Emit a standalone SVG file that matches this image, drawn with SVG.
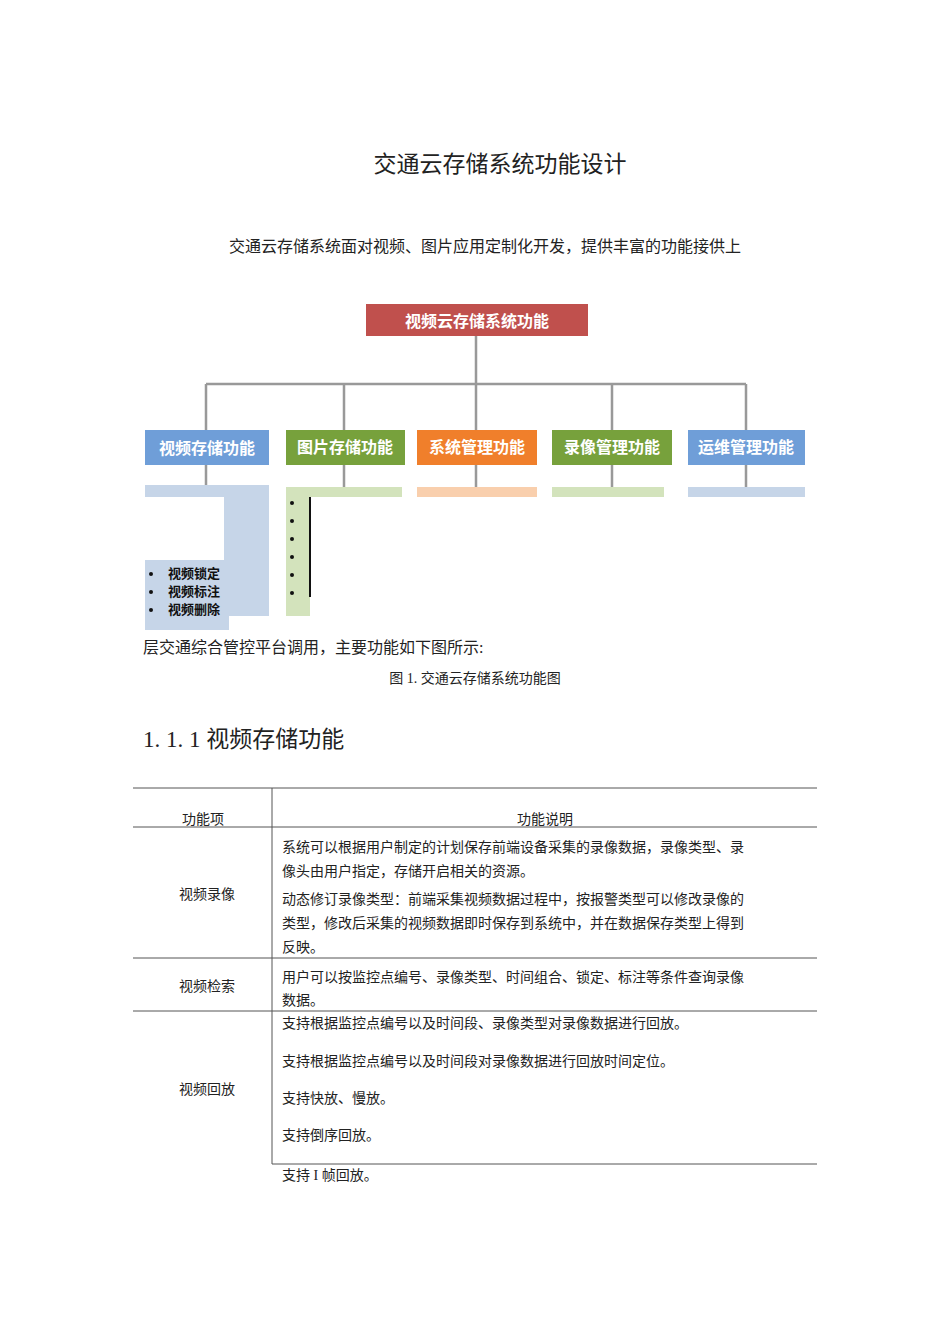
<svg xmlns="http://www.w3.org/2000/svg" width="950" height="1344" viewBox="0 0 950 1344">
<style>
.t{font-family:"Liberation Serif","Noto Sans CJK SC",serif;fill:#222}
.b{font-family:"Noto Sans CJK SC",sans-serif;font-weight:bold;fill:#fff;font-size:16px;text-anchor:middle}
.k{font-family:"Noto Sans CJK SC",sans-serif;font-weight:bold;fill:#111;font-size:13px}
.c{stroke:#999;stroke-width:2.5;fill:none}
.r{stroke:#555;stroke-width:1;fill:none}
</style>
<rect width="950" height="1344" fill="#fff"/>
<text class="t" x="500" y="172" font-size="23" text-anchor="middle">交通云存储系统功能设计</text>
<text class="t" x="229" y="252" font-size="16">交通云存储系统面对视频、图片应用定制化开发，提供丰富的功能接供上</text>
<g id="connectors">
<path class="c" d="M476 335V384M206 384H746M206 384V430M344 384V430M476 384V430M612 384V430M746 384V430M206 465V485M344 465V487M476 465V487M612 465V487M746 465V487"/>
</g>
<g id="root"><rect x="366" y="304" width="222" height="32" fill="#c0504d"/><text class="b" x="477" y="327" font-size="19">视频云存储系统功能</text></g>
<g id="n1"><rect x="145" y="430" width="124" height="35" fill="#6f9ed8"/><text class="b" x="207" y="454">视频存储功能</text></g>
<g id="n2"><rect x="286" y="430" width="119" height="35" fill="#77a13c"/><text class="b" x="345" y="453">图片存储功能</text></g>
<g id="n3"><rect x="417" y="430" width="120" height="35" fill="#f07f2b"/><text class="b" x="477" y="453">系统管理功能</text></g>
<g id="n4"><rect x="552" y="430" width="120" height="35" fill="#77a13c"/><text class="b" x="612" y="453">录像管理功能</text></g>
<g id="n5"><rect x="688" y="430" width="117" height="35" fill="#6f9ed8"/><text class="b" x="746" y="453">运维管理功能</text></g>
<g id="lists">
<rect x="145" y="485" width="124" height="131" fill="#c6d5e8"/>
<rect x="145" y="616" width="84" height="14" fill="#c6d5e8"/>
<rect x="145" y="497" width="79" height="63" fill="#fff"/>
<text class="k" x="168" y="578">视频锁定</text><text class="k" x="168" y="596">视频标注</text><text class="k" x="168" y="614">视频删除</text>
<circle cx="151" cy="574" r="2" fill="#111"/><circle cx="151" cy="592" r="2" fill="#111"/><circle cx="151" cy="610" r="2" fill="#111"/>
<rect x="286" y="487" width="116" height="129" fill="#d3e3bc"/>
<rect x="310" y="497" width="230" height="120" fill="#fff"/>
<g fill="#111"><circle cx="292" cy="503" r="2"/><circle cx="292" cy="521" r="2"/><circle cx="292" cy="539" r="2"/><circle cx="292" cy="557" r="2"/><circle cx="292" cy="575" r="2"/><circle cx="292" cy="593" r="2"/>
<rect x="309" y="497" width="2" height="100"/></g>
<rect x="417" y="487" width="120" height="10" fill="#f9cfad"/>
<rect x="552" y="487" width="112" height="10" fill="#d3e3bc"/>
<rect x="688" y="487" width="117" height="10" fill="#c6d5e8"/>
</g>
<text class="t" x="143" y="653" font-size="16">层交通综合管控平台调用，主要功能如下图所示:</text>
<text class="t" x="475" y="683" font-size="14" text-anchor="middle">图 1. 交通云存储系统功能图</text>
<text class="t" x="143" y="747" font-size="23">1. 1. 1 视频存储功能</text>
<g id="table">
<path class="r" d="M133 788H817M272 788V1164M133 827H817M133 958H817M133 1011H817M272 1164H817"/>
<g class="t" font-size="14">
<text x="203" y="824" text-anchor="middle">功能项</text>
<text x="545" y="824" text-anchor="middle">功能说明</text>
<text x="207" y="899" text-anchor="middle">视频录像</text>
<text x="207" y="991" text-anchor="middle">视频检索</text>
<text x="207" y="1094" text-anchor="middle">视频回放</text>
<text x="282" y="852">系统可以根据用户制定的计划保存前端设备采集的录像数据，录像类型、录</text>
<text x="282" y="876">像头由用户指定，存储开启相关的资源。</text>
<text x="282" y="904">动态修订录像类型：前端采集视频数据过程中，按报警类型可以修改录像的</text>
<text x="282" y="928">类型，修改后采集的视频数据即时保存到系统中，并在数据保存类型上得到</text>
<text x="282" y="952">反映。</text>
<text x="282" y="982">用户可以按监控点编号、录像类型、时间组合、锁定、标注等条件查询录像</text>
<text x="282" y="1005">数据。</text>
<text x="282" y="1028">支持根据监控点编号以及时间段、录像类型对录像数据进行回放。</text>
<text x="282" y="1066">支持根据监控点编号以及时间段对录像数据进行回放时间定位。</text>
<text x="282" y="1103">支持快放、慢放。</text>
<text x="282" y="1140">支持倒序回放。</text>
<text x="282" y="1180">支持 I 帧回放。</text>
</g>
</g>
</svg>
